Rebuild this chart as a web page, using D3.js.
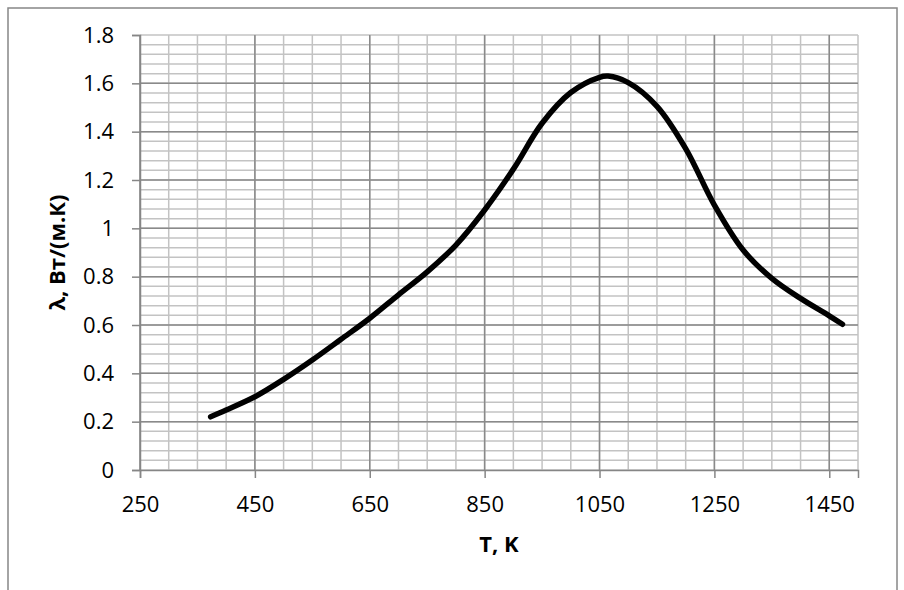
<!DOCTYPE html>
<html lang="ru">
<head>
<meta charset="UTF-8">
<title>λ(T)</title>
<style>
  body { margin: 0; background: #fff; }
  svg { display: block; }
</style>
</head>
<body>
<svg id="chart"></svg>
<script src="https://d3js.org/d3.v7.min.js"></script>
<script>
// temperature, K
const temps = [373, 400, 450, 500, 550, 600, 650, 700, 750, 800, 850, 900, 950, 1000, 1050, 1065, 1100, 1150, 1200, 1250, 1300, 1350, 1400, 1450, 1473];
// thermal conductivity, W/(m.K)
const lambdas = [0.22, 0.248, 0.303, 0.375, 0.455, 0.541, 0.628, 0.725, 0.82, 0.931, 1.076, 1.245, 1.435, 1.562, 1.625, 1.63, 1.603, 1.505, 1.33, 1.096, 0.91, 0.793, 0.71, 0.638, 0.603];

const xTicks = [250, 450, 650, 850, 1050, 1250, 1450];
const yTicks = [0, 0.2, 0.4, 0.6, 0.8, 1, 1.2, 1.4, 1.6, 1.8];

const width = 904, height = 590;
const margin = { top: 35, right: 46, bottom: 120, left: 140 };

const svg = d3.select("#chart")
    .attr("width", width)
    .attr("height", height)
    .attr("viewBox", [0, 0, width, height]);

const x = d3.scaleLinear([250, 1500], [margin.left, width - margin.right]);
const y = d3.scaleLinear([0, 1.8], [height - margin.bottom, margin.top]);

// chart area border
svg.append("rect")
    .attr("x", 8).attr("y", 8)
    .attr("width", 889).attr("height", 620)
    .attr("fill", "none")
    .attr("stroke", "#878787")
    .attr("stroke-width", 1.5);

// minor grid
const minorX = d3.range(250, 1500.1, 50);
const minorY = d3.range(0, 1.8001, 0.04);
svg.append("g")
    .attr("stroke", "#c3c3c3")
    .attr("stroke-width", 1.5)
    .call(g => g.selectAll(".vx").data(minorX).join("line")
        .attr("x1", d => x(d)).attr("x2", d => x(d))
        .attr("y1", y(0)).attr("y2", y(1.8)))
    .call(g => g.selectAll(".hy").data(minorY).join("line")
        .attr("class", "hy")
        .attr("x1", x(250)).attr("x2", x(1500))
        .attr("y1", d => y(d)).attr("y2", d => y(d)));

// major grid
svg.append("g")
    .attr("stroke", "#8a8a8a")
    .attr("stroke-width", 1.5)
    .call(g => g.selectAll(".mx").data(xTicks).join("line")
        .attr("x1", d => x(d)).attr("x2", d => x(d))
        .attr("y1", y(0)).attr("y2", y(1.8)))
    .call(g => g.selectAll(".my").data(yTicks.slice(1, -1)).join("line")
        .attr("class", "my")
        .attr("x1", x(250)).attr("x2", x(1500))
        .attr("y1", d => y(d)).attr("y2", d => y(d)));

// axes
const xAxis = d3.axisBottom(x).tickValues(xTicks).tickSize(8).tickPadding(18).tickFormat(d3.format("d"));
const yAxis = d3.axisLeft(y).tickValues(yTicks).tickSize(8).tickPadding(18).tickFormat(d => d3.format("")(d));

svg.append("g")
    .attr("transform", `translate(0,${y(0)})`)
    .call(xAxis)
    .call(g => g.select(".domain").attr("stroke", "#868686").attr("stroke-width", 1.5))
    .call(g => g.selectAll(".tick line").attr("stroke", "#868686").attr("stroke-width", 1.5))
    .call(g => g.selectAll(".tick text")
        .attr("fill", "#000")
        .attr("font-family", "Open Sans")
        .attr("font-size", 22));

svg.append("g")
    .attr("transform", `translate(${x(250)},0)`)
    .call(yAxis)
    .call(g => g.select(".domain").attr("stroke", "#868686").attr("stroke-width", 1.5))
    .call(g => g.selectAll(".tick line").attr("stroke", "#868686").attr("stroke-width", 1.5))
    .call(g => g.selectAll(".tick text")
        .attr("fill", "#000")
        .attr("font-family", "Open Sans")
        .attr("font-size", 22));

// axis titles
svg.append("text")
    .attr("x", (x(250) + x(1500)) / 2)
    .attr("y", 552)
    .attr("text-anchor", "middle")
    .attr("font-family", "Open Sans")
    .attr("font-weight", "bold")
    .attr("font-size", 22)
    .text("T, K");

svg.append("text")
    .attr("transform", `translate(65,${(y(0) + y(1.8)) / 2}) rotate(-90)`)
    .attr("text-anchor", "middle")
    .attr("font-family", "Open Sans")
    .attr("font-weight", "bold")
    .attr("font-size", 22)
    .text("λ, Вт/(м.К)");

// curve
const points = temps.map((t, i) => [t, lambdas[i]]);
svg.append("path")
    .datum(points)
    .attr("fill", "none")
    .attr("stroke", "#000")
    .attr("stroke-width", 5.5)
    .attr("stroke-linecap", "round")
    .attr("stroke-linejoin", "round")
    .attr("d", d3.line()
        .x(d => x(d[0]))
        .y(d => y(d[1]))
        .curve(d3.curveCatmullRom.alpha(0.5)));
</script>
</body>
</html>
